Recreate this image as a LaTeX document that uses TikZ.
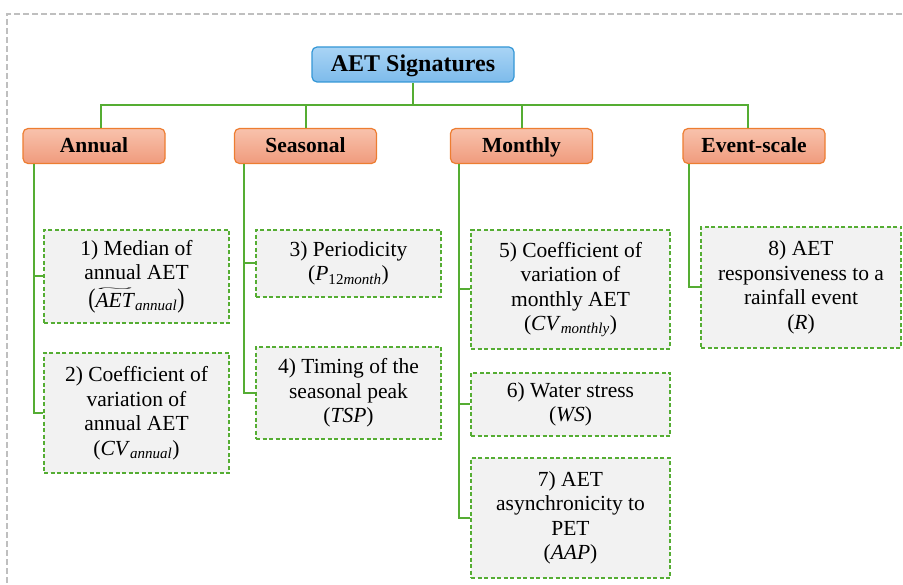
\documentclass[tikz,border=0pt]{standalone}
\usepackage{fontspec}
\setmainfont{Liberation Serif}
\newfontfamily\tnr{Liberation Serif}
\definecolor{treegreen}{HTML}{55AD33}
\definecolor{boxfill}{HTML}{F2F2F2}
\definecolor{rootborder}{HTML}{3497D6}
\definecolor{roottop}{HTML}{A9D4F5}
\definecolor{rootbot}{HTML}{7DBBEB}
\definecolor{catborder}{HTML}{ED7D31}
\definecolor{cattop}{HTML}{F8C2AC}
\definecolor{catbot}{HTML}{F09B7D}
\definecolor{framegray}{HTML}{BFBFBF}
\newcommand\mvar[2]{\textit{#1}\textsubscript{\textit{#2}}}
\newcommand\tildeaet{\makebox[0pt][l]{\hspace{1pt}\raisebox{16pt}{\resizebox{37pt}{3.5pt}{\textasciitilde}}}\textit{AET}}
\tikzset{
  rootbox/.style={draw=rootborder, line width=1.2pt, rounded corners=5pt,
    top color=roottop, bottom color=rootbot, minimum width=202pt, minimum height=35pt,
    inner sep=0pt, text height=16pt, text depth=2pt, font=\tnr\fontsize{24}{26}\selectfont\bfseries},
  catbox/.style={draw=catborder, line width=1.2pt, rounded corners=5pt,
    top color=cattop, bottom color=catbot, minimum width=142pt, minimum height=35pt,
    inner sep=0pt, text height=15pt, text depth=1pt, font=\tnr\fontsize{21.5}{24}\selectfont\bfseries},
  sigbox/.style={draw=treegreen, dashed, dash pattern=on 4pt off 2.5pt, line width=1.6pt,
    fill=boxfill, inner sep=0pt, align=center, font=\tnr\fontsize{21.5}{24.5}\selectfont},
  link/.style={draw=treegreen, line width=2pt},
}
\begin{document}
\begin{tikzpicture}[x=1pt,y=-1pt]
\useasboundingbox (0,0) rectangle (903,585);
\draw[framegray, line width=1.3pt, dash pattern=on 6pt off 3pt] (920,14) -- (7,14) -- (7,600);

\node[rootbox] (root) at (413,64.5) {AET Signatures};
\node[catbox] (annual) at (94,146) {Annual};
\node[catbox] (seasonal) at (305.5,146) {Seasonal};
\node[catbox] (monthly) at (521.5,146) {Monthly};
\node[catbox] (event) at (754,146) {Event-scale};

\node[sigbox, minimum width=185pt, minimum height=93pt] (b1) at (136.5,276.5)
  {1) Median of\\annual AET\\[3pt]\scalebox{1}[1.25]{(}\tildeaet\textsubscript{\textit{annual}}\scalebox{1}[1.25]{)}};
\node[sigbox, minimum width=185pt, minimum height=120pt] (b2) at (136.5,413)
  {2) Coefficient of\\variation of\\annual AET\\(\mvar{CV}{annual})};
\node[sigbox, minimum width=185pt, minimum height=67pt] (b3) at (348.5,263.5)
  {3) Periodicity\\(\mvar{P}{\upshape12\itshape month})};
\node[sigbox, minimum width=185pt, minimum height=92pt] (b4) at (348.5,393)
  {4) Timing of the\\seasonal peak\\(\textit{TSP})};
\node[sigbox, minimum width=199pt, minimum height=119pt] (b5) at (570.5,289.5)
  {5) Coefficient of\\variation of\\monthly AET\\(\mvar{CV}{monthly})};
\node[sigbox, minimum width=199pt, minimum height=63pt] (b6) at (570.5,404.5)
  {6) Water stress\\(\textit{WS})};
\node[sigbox, minimum width=199pt, minimum height=120pt] (b7) at (570.5,518)
  {7) AET\\asynchronicity to\\PET\\(\textit{AAP})};
\node[sigbox, minimum width=200pt, minimum height=121pt] (b8) at (801,287.5)
  {8) AET\\responsiveness to a\\rainfall event\\(\textit{R})};

\coordinate (bar) at (413,105);
\draw[link] (root.south) -- (bar);
\draw[link] ([xshift=7pt]annual.north) |- (bar) -| ([xshift=-6pt]event.north);
\draw[link] (seasonal.north) -- (seasonal.north |- bar);
\draw[link] (monthly.north) -- (monthly.north |- bar);

\draw[link] ([xshift=12pt]annual.south west) |- (b1.west);
\draw[link] ([xshift=12pt]annual.south west) |- (b2.west);
\draw[link] ([xshift=10pt]seasonal.south west) |- (b3.west);
\draw[link] ([xshift=10pt]seasonal.south west) |- (b4.west);
\draw[link] ([xshift=9pt]monthly.south west) |- (b5.west);
\draw[link] ([xshift=9pt]monthly.south west) |- (b6.west);
\draw[link] ([xshift=9pt]monthly.south west) |- (b7.west);
\draw[link] ([xshift=7pt]event.south west) |- (b8.west);
\end{tikzpicture}
\end{document}
